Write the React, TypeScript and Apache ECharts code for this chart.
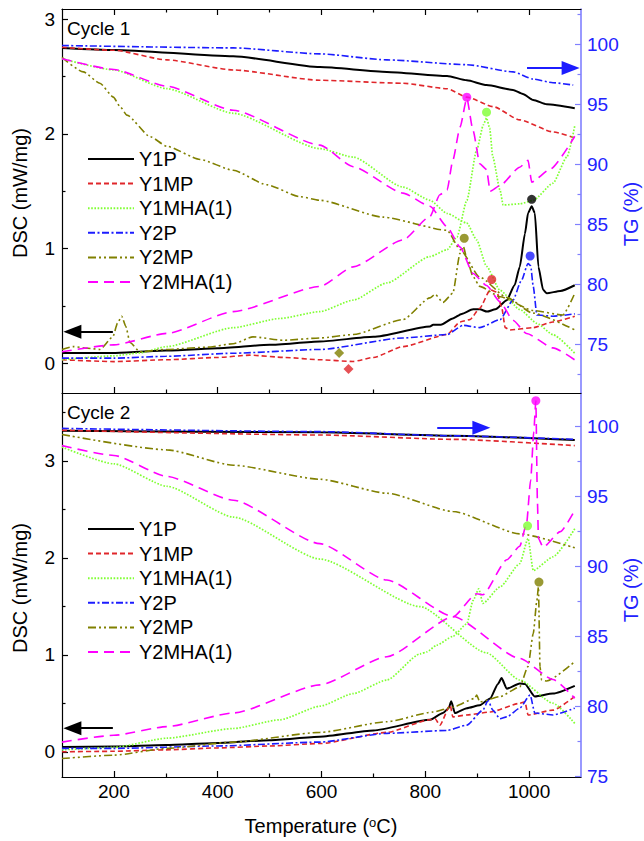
import React, { useEffect, useRef } from "react";
import * as echarts from "echarts";

// ---- tick positions ----
const xMajorTicks = [200, 400, 600, 800, 1000];
const xMinorTicks = [300, 500, 700, 900];
const dscMajorTicks = [0, 1, 2, 3];
const dscMinorTicksC1 = [0.5, 1.5, 2.5];
const dscMinorTicksC2 = [0.5, 1.5, 2.5, 3.5];
const tgMajorTicks = [75, 80, 85, 90, 95, 100];
const tgMinorTicksC1 = [72.5, 77.5, 82.5, 87.5, 92.5, 97.5, 102.5];
const tgMinorTicksC2 = [77.5, 82.5, 87.5, 92.5, 97.5];

const samples = ["Y1P", "Y1MP", "Y1MHA(1)", "Y2P", "Y2MP", "Y2MHA(1)"];

// ---- Cycle 1: DSC (mW/mg) vs temperature (°C) ----
const c1DscY1P = [[100,0.09],[200,0.09],[300,0.11],[400,0.13],[500,0.16],[597,0.19],[700,0.23],[809,0.32],[815,0.335],[830,0.335],[853,0.39],[870,0.43],[892,0.47],[905,0.47],[919,0.45],[935,0.47],[957,0.55],[972,0.68],[982,0.84],[992,1.13],[998,1.31],[1005,1.37],[1011,1.31],[1018,0.84],[1027,0.64],[1034,0.61],[1060,0.63],[1088,0.68]];
const c1DscY1MP = [[100,0.03],[200,0.014],[302,0.03],[400,0.05],[462,0.07],[530,0.05],[597,0.03],[661,0.015],[700,0.05],[757,0.145],[842,0.25],[867,0.36],[886,0.38],[905,0.48],[925,0.64],[938,0.62],[947,0.49],[954,0.31],[963,0.29],[1008,0.31],[1046,0.36],[1088,0.41]];
const c1DscY1MHA = [[100,0.03],[200,0.064],[250,0.09],[302,0.145],[430,0.31],[520,0.39],[597,0.45],[661,0.55],[726,0.70],[809,0.93],[842,0.99],[861,1.10],[880,1.42],[899,1.86],[912,2.08],[918,2.14],[924,2.05],[930,1.80],[944,1.51],[950,1.38],[982,1.39],[1008,1.42],[1046,1.57],[1073,1.80],[1088,2.07]];
const c1DscY2P = [[100,0.044],[200,0.044],[300,0.06],[430,0.087],[597,0.12],[757,0.22],[842,0.25],[873,0.33],[905,0.31],[944,0.38],[969,0.55],[985,0.72],[998,0.87],[1003,0.85],[1008,0.67],[1015,0.42],[1046,0.41],[1088,0.43]];
const c1DscY2MP = [[100,0.12],[121,0.145],[150,0.13],[173,0.12],[198,0.23],[207,0.35],[215,0.41],[223,0.32],[231,0.18],[250,0.10],[302,0.12],[380,0.14],[430,0.17],[468,0.23],[526,0.20],[597,0.22],[661,0.25],[757,0.38],[809,0.57],[819,0.60],[834,0.53],[853,0.61],[867,0.96],[873,1.02],[882,0.88],[892,0.755],[905,0.67],[944,0.58],[1008,0.46],[1065,0.42],[1088,0.61]];
const c1DscY2MHA = [[100,0.10],[200,0.16],[302,0.26],[430,0.45],[597,0.67],[661,0.84],[757,1.075],[809,1.28],[828,1.47],[842,1.51],[853,1.77],[867,2.06],[880,2.31],[892,2.03],[905,1.74],[918,1.69],[925,1.50],[944,1.55],[982,1.71],[998,1.77],[1005,1.58],[1040,1.69],[1088,1.98]];

// ---- Cycle 1: TG (%) vs temperature (°C) ----
const c1TgY1P = [[100,99.7],[200,99.53],[430,99.0],[597,98.1],[726,97.7],[842,97.36],[880,97.0],[918,96.6],[969,96.2],[988,95.86],[1008,95.36],[1034,95.0],[1088,94.67]];
const c1TgY1MP = [[100,99.75],[200,99.5],[302,98.7],[430,97.86],[597,97.0],[757,96.75],[842,96.3],[880,95.6],[931,94.8],[982,93.7],[1046,92.7],[1088,92.2]];
const c1TgY1MHA = [[100,98.8],[200,97.86],[302,96.3],[430,94.25],[597,91.3],[661,90.6],[757,88.1],[809,87.0],[842,85.9],[880,85.1],[899,83.7],[918,81.5],[944,79.5],[982,77.9],[1015,76.75],[1046,75.8],[1088,74.25]];
const c1TgY2P = [[100,99.9],[430,99.7],[597,99.2],[726,98.7],[880,98.3],[969,97.7],[1008,97.1],[1046,96.8],[1085,96.6]];
const c1TgY2MP = [[100,98.9],[141,97.7],[173,96.75],[199,95.6],[212,94.8],[225,94.1],[270,92.3],[302,91.5],[366,90.4],[430,89.5],[494,88.3],[559,87.3],[597,87.0],[718,85.6],[842,84.5],[867,82.9],[905,80.6],[957,78.9],[1007,77.6],[1088,76.2]];
const c1TgY2MHA = [[100,98.8],[200,97.9],[302,96.5],[430,94.5],[597,91.6],[661,89.8],[757,87.6],[809,86.5],[842,84.8],[867,83.1],[892,80.9],[918,79.9],[944,78.55],[969,77.0],[995,75.9],[1046,74.7],[1088,73.7]];

// ---- Cycle 2: DSC (mW/mg) ----
const c2DscY1P = [[100,0.05],[200,0.055],[300,0.07],[400,0.09],[500,0.12],[597,0.155],[700,0.22],[809,0.33],[834,0.40],[845,0.45],[850,0.52],[857,0.40],[880,0.45],[905,0.48],[925,0.55],[940,0.70],[947,0.76],[957,0.65],[982,0.705],[992,0.70],[1011,0.57],[1046,0.60],[1088,0.68]];
const c2DscY1MP = [[100,0.0],[200,0.005],[300,0.02],[400,0.04],[500,0.06],[597,0.085],[726,0.20],[809,0.33],[819,0.34],[828,0.275],[848,0.48],[853,0.36],[880,0.38],[925,0.41],[982,0.50],[992,0.515],[998,0.38],[1046,0.43],[1088,0.57]];
const c2DscY1MHA = [[100,0.02],[200,0.045],[302,0.14],[430,0.24],[520,0.33],[597,0.47],[661,0.60],[726,0.74],[790,1.01],[803,1.03],[822,1.10],[853,1.19],[880,1.32],[892,1.56],[903,1.68],[911,1.53],[944,1.70],[982,1.94],[998,2.20],[1008,1.87],[1046,2.01],[1088,2.30]];
const c2DscY2P = [[100,0.035],[200,0.035],[400,0.06],[597,0.10],[726,0.19],[842,0.22],[880,0.275],[911,0.43],[921,0.53],[930,0.43],[944,0.34],[957,0.36],[982,0.45],[1002,0.585],[1011,0.40],[1046,0.38],[1088,0.45]];
const c2DscY2MP = [[100,-0.07],[200,-0.035],[302,0.035],[430,0.10],[597,0.20],[726,0.31],[815,0.41],[853,0.46],[895,0.55],[899,0.585],[905,0.515],[944,0.57],[982,0.67],[998,0.88],[1008,1.22],[1015,1.56],[1018,1.70],[1021,0.88],[1024,0.74],[1034,0.73],[1088,0.93]];
const c2DscY2MHA = [[100,0.10],[200,0.17],[302,0.26],[430,0.40],[597,0.69],[726,0.98],[853,1.39],[899,1.63],[911,1.62],[957,1.98],[982,2.12],[995,2.35],[1003,2.8],[1009,3.3],[1013,3.62],[1016,2.59],[1018,2.20],[1027,2.11],[1060,2.27],[1088,2.49]];

// ---- Cycle 2: TG (%) ----
const c2TgY1P = [[100,99.66],[597,99.55],[853,99.3],[1088,99.0]];
const c2TgY1MP = [[100,99.7],[597,99.36],[853,99.05],[1088,98.6]];
const c2TgY1MHA = [[100,98.5],[200,97.3],[302,95.7],[430,93.5],[597,90.5],[790,87.1],[918,83.8],[982,81.86],[1046,80.2],[1088,78.76]];
const c2TgY2P = [[100,99.83],[597,99.6],[853,99.3],[1088,99.05]];
const c2TgY2MP = [[100,99.4],[302,98.3],[430,97.2],[597,96.2],[726,95.2],[853,93.9],[982,92.3],[1088,91.3]];
const c2TgY2MHA = [[100,98.6],[200,97.9],[302,96.4],[430,94.7],[597,91.6],[726,89.0],[853,86.4],[982,83.4],[1046,81.9],[1088,80.55]];

// ---- marked extrema: [temperature, DSC, sample] ----
const c1Peaks: [number, number, string][] = [[880,2.32,"Y2MHA(1)"],[918,2.19,"Y1MHA(1)"],[875,1.09,"Y2MP"],[928,0.73,"Y1MP"],[1005,1.43,"Y1P"],[1002,0.935,"Y2P"]];
const c1Dips: [number, number, string][] = [[634,0.09,"Y2MP"],[652,-0.05,"Y1MP"]];
const c2Peaks: [number, number, string][] = [[997,2.33,"Y1MHA(1)"],[1019,1.75,"Y2MP"],[1013,3.62,"Y2MHA(1)"]];

// ---- axis-pointer arrows (from, to) ----
const c1DscArrow = [[198,0.275],[120,0.275]];
const c1TgArrow = [[996,98.03],[1080,98.03]];
const c2DscArrow = [[198,0.244],[120,0.244]];
const c2TgArrow = [[823,99.88],[908,99.88]];

const FONT = "'Liberation Sans', Arial, sans-serif";
const TG_BLUE = "#2222ff";
const TG_AXIS = "#8080ff";

const lineLook: Record<string, { color: string; width: number; type: any }> = {
  "Y1P": { color: "#000000", width: 2, type: "solid" },
  "Y1MP": { color: "#e0262b", width: 1.6, type: [5, 3] },
  "Y1MHA(1)": { color: "#80ff33", width: 1.7, type: [1.6, 1.6] },
  "Y2P": { color: "#1c1cff", width: 1.6, type: [7, 2.5, 2, 2.5] },
  "Y2MP": { color: "#808000", width: 1.6, type: [8, 3, 2, 3, 2, 3] },
  "Y2MHA(1)": { color: "#ff00ff", width: 1.6, type: [10, 6] },
};

const c1Dsc = [c1DscY1P, c1DscY1MP, c1DscY1MHA, c1DscY2P, c1DscY2MP, c1DscY2MHA];
const c1Tg = [c1TgY1P, c1TgY1MP, c1TgY1MHA, c1TgY2P, c1TgY2MP, c1TgY2MHA];
const c2Dsc = [c2DscY1P, c2DscY1MP, c2DscY1MHA, c2DscY2P, c2DscY2MP, c2DscY2MHA];
const c2Tg = [c2TgY1P, c2TgY1MP, c2TgY1MHA, c2TgY2P, c2TgY2MP, c2TgY2MHA];

function curve(name: string, data: number[][], xAxisIndex: number, yAxisIndex: number) {
  const look = lineLook[name];
  return {
    type: "line",
    name,
    data,
    xAxisIndex,
    yAxisIndex,
    symbol: "none",
    smooth: 0.2,
    smoothMonotone: "x",
    lineStyle: { color: look.color, width: look.width, type: look.type },
    itemStyle: { color: look.color },
    silent: true,
  };
}

function markers(list: [number, number, string][], xAxisIndex: number, yAxisIndex: number, symbol: string, size: number) {
  return {
    type: "scatter",
    name: "marks-" + symbol + xAxisIndex,
    xAxisIndex,
    yAxisIndex,
    symbol,
    symbolSize: size,
    silent: true,
    z: 5,
    data: list.map(([x, y, s]) => ({ value: [x, y], itemStyle: { color: lineLook[s].color } })),
  };
}

function arrow(seg: number[][], color: string) {
  return {
    silent: true,
    symbol: ["none", "triangle"],
    symbolSize: [14, 18],
    label: { show: false },
    lineStyle: { color, width: 2, type: "solid" },
    data: [[{ coord: seg[0] }, { coord: seg[1] }]],
  };
}

const xBase = { type: "value", min: 100, max: 1100, splitLine: { show: false } };

function xAxisDef(gridIndex: number, position: string, ticks: number[], len: number, showLine: boolean, labels: boolean) {
  return {
    ...xBase,
    gridIndex,
    position,
    axisLine: { show: showLine, onZero: false, lineStyle: { color: "#000", width: 1.2 } },
    axisTick: { show: true, inside: true, length: len, customValues: ticks, lineStyle: { color: "#000", width: 1.2 } },
    axisLabel: labels
      ? { show: true, customValues: xMajorTicks, margin: 5, fontSize: 19, color: "#000", fontFamily: FONT, formatter: (v: number) => String(v) }
      : { show: false },
  };
}

function yAxisDef(gridIndex: number, position: string, min: number, max: number, ticks: number[], len: number, major: boolean, tg: boolean) {
  const c = tg ? TG_AXIS : "#000";
  return {
    type: "value",
    gridIndex,
    position,
    min,
    max,
    splitLine: { show: false },
    axisLine: { show: major, onZero: false, lineStyle: { color: c, width: tg ? 1.6 : 1.2 } },
    axisTick: { show: true, inside: true, length: len, customValues: ticks, lineStyle: { color: c, width: 1.2 } },
    axisLabel: major
      ? { show: true, customValues: tg ? tgMajorTicks : dscMajorTicks, margin: tg ? 6 : 7, fontSize: 19, color: tg ? TG_BLUE : "#000", fontFamily: FONT, formatter: (v: number) => String(v) }
      : { show: false },
  };
}

const series: any[] = [];
samples.forEach((s, i) => {
  series.push(curve(s, c1Dsc[i], 0, 0));
  series.push(curve(s, c1Tg[i], 0, 2));
  series.push(curve(s, c2Dsc[i], 4, 4));
  series.push(curve(s, c2Tg[i], 4, 6));
});
series.push(markers(c1Peaks, 0, 0, "circle", 9));
series.push(markers(c1Dips, 0, 0, "diamond", 10));
series.push(markers(c2Peaks, 4, 4, "circle", 9));
// arrows pointing at the axis each group of curves belongs to
series.push({ type: "line", name: "arrow-c1-dsc", xAxisIndex: 0, yAxisIndex: 0, data: [], markLine: arrow(c1DscArrow, "#000") });
series.push({ type: "line", name: "arrow-c1-tg", xAxisIndex: 0, yAxisIndex: 2, data: [], markLine: arrow(c1TgArrow, "#1c1cff") });
series.push({ type: "line", name: "arrow-c2-dsc", xAxisIndex: 4, yAxisIndex: 4, data: [], markLine: arrow(c2DscArrow, "#000") });
series.push({ type: "line", name: "arrow-c2-tg", xAxisIndex: 4, yAxisIndex: 6, data: [], markLine: arrow(c2TgArrow, "#1c1cff") });

const legendBase = {
  data: samples,
  orient: "vertical",
  left: 82,
  itemWidth: 46,
  itemHeight: 14,
  itemGap: 2.6,
  selectedMode: false,
  // legend keys show only the line pattern, no point symbol
  itemStyle: { color: "rgba(0,0,0,0)", borderWidth: 0, opacity: 0 },
  lineStyle: { width: 2 },
  textStyle: { fontSize: 20, lineHeight: 22, color: "#000", fontFamily: FONT },
};

const option: any = {
  animation: false,
  backgroundColor: "#fff",
  textStyle: { fontFamily: FONT },
  grid: [
    { left: 62, top: 9, width: 519, height: 384 },
    { left: 62, top: 393, width: 519, height: 384 },
  ],
  xAxis: [
    xAxisDef(0, "bottom", xMajorTicks, 6, true, false),
    xAxisDef(0, "bottom", xMinorTicks, 3.5, false, false),
    xAxisDef(0, "top", xMajorTicks, 6, true, false),
    xAxisDef(0, "top", xMinorTicks, 3.5, false, false),
    xAxisDef(1, "bottom", xMajorTicks, 6, true, true),
    xAxisDef(1, "bottom", xMinorTicks, 3.5, false, false),
  ],
  yAxis: [
    yAxisDef(0, "left", -0.26, 3.09, dscMajorTicks, 6, true, false),
    yAxisDef(0, "left", -0.26, 3.09, dscMinorTicksC1, 3.5, false, false),
    yAxisDef(0, "right", 70.94, 102.94, tgMajorTicks, 6, true, true),
    yAxisDef(0, "right", 70.94, 102.94, tgMinorTicksC1, 3.5, false, true),
    yAxisDef(1, "left", -0.26, 3.70, dscMajorTicks, 6, true, false),
    yAxisDef(1, "left", -0.26, 3.70, dscMinorTicksC2, 3.5, false, false),
    yAxisDef(1, "right", 74.93, 102.36, tgMajorTicks, 6, true, true),
    yAxisDef(1, "right", 74.93, 102.36, tgMinorTicksC2, 3.5, false, true),
  ],
  legend: [
    { ...legendBase, top: 143 },
    { ...legendBase, top: 513 },
  ],
  graphic: [
    { type: "text", x: 67, y: 28, silent: true, style: { text: "Cycle 1", fontSize: 19, fontFamily: FONT, fill: "#000", align: "left", verticalAlign: "middle" } },
    { type: "text", x: 67, y: 412, silent: true, style: { text: "Cycle 2", fontSize: 19, fontFamily: FONT, fill: "#000", align: "left", verticalAlign: "middle" } },
    { type: "text", x: 20, y: 193, rotation: Math.PI / 2, silent: true, style: { text: "DSC (mW/mg)", fontSize: 20, fontFamily: FONT, fill: "#000", align: "center", verticalAlign: "middle" } },
    { type: "text", x: 20, y: 588, rotation: Math.PI / 2, silent: true, style: { text: "DSC (mW/mg)", fontSize: 20, fontFamily: FONT, fill: "#000", align: "center", verticalAlign: "middle" } },
    { type: "text", x: 631, y: 214, rotation: Math.PI / 2, silent: true, style: { text: "TG (%)", fontSize: 20, fontFamily: FONT, fill: TG_BLUE, align: "center", verticalAlign: "middle" } },
    { type: "text", x: 631, y: 590, rotation: Math.PI / 2, silent: true, style: { text: "TG (%)", fontSize: 20, fontFamily: FONT, fill: TG_BLUE, align: "center", verticalAlign: "middle" } },
    {
      type: "text", x: 321, y: 826, silent: true,
      style: {
        text: "{a|Temperature (}{b|o}{a|C)}",
        align: "center", verticalAlign: "middle", fill: "#000",
        rich: {
          a: { fontSize: 20, fontFamily: FONT, fill: "#000" },
          b: { fontSize: 13, fontFamily: FONT, fill: "#000", verticalAlign: "top" },
        },
      },
    },
  ],
  series,
};

export default function App() {
  const ref = useRef<HTMLDivElement>(null);
  useEffect(() => {
    if (!ref.current) return;
    const chart = echarts.init(ref.current, null, { renderer: "svg" });
    chart.setOption(option);
    return () => chart.dispose();
  }, []);
  return (
    <div
      ref={ref}
      style={{ position: "fixed", left: 0, top: 0, width: 644, height: 841, background: "#fff" }}
    />
  );
}
